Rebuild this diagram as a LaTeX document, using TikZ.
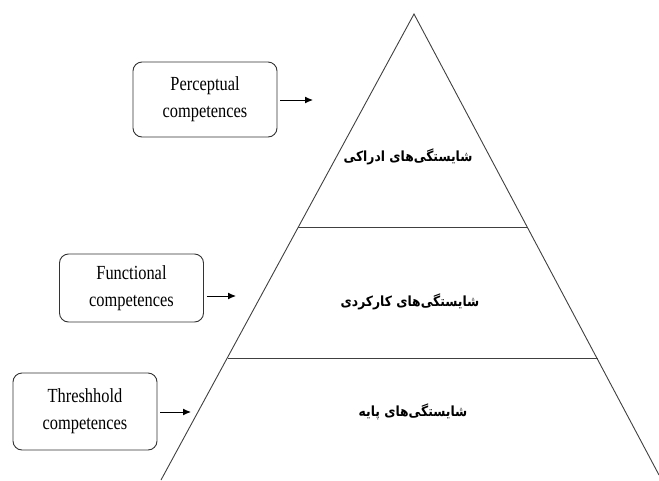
\documentclass[tikz,border=0pt]{standalone}
\usepackage{fontspec}
\setmainfont{Liberation Serif}[FakeStretch=0.82]
\newfontfamily\farsifont[Script=Arabic,FakeStretch=0.88]{DejaVu Sans}
\TeXXeTstate=1
\usetikzlibrary{arrows.meta}

\begin{document}
\begin{tikzpicture}[x=1pt, y=-1pt,
  comp/.style={draw=black!80, line width=0.9pt, rounded corners=9pt, minimum width=144pt, align=center, font=\fontsize{20}{27}\selectfont},
  layer/.style={font=\farsifont\bfseries\fontsize{14}{17}\selectfont},
  edge/.style={draw=black!75, line width=0.9pt},
  pointer/.style={-{Latex[length=8pt,width=7pt]}, line width=1pt, shorten <=3pt}]
\useasboundingbox (0,0) rectangle (659,480);
\coordinate (apex) at (414,14);
\coordinate (bl) at (161,480);
\coordinate (br) at (659,475);
\coordinate (l1) at (298,227);
\coordinate (r1) at (527,227);
\coordinate (l2) at (228,358);
\coordinate (r2) at (598,358);
\draw [edge] (bl) -- (apex) -- (br);
\draw [edge] (l1) -- (r1);
\draw [edge] (l2) -- (r2);
\node [layer] (perc) at (408,157) {\beginR شایستگی‌های ادراکی\endR};
\node [layer] (func) at (410,302) {\beginR شایستگی‌های کارکردی\endR};
\node [layer] (base) at (413,412) {\beginR شایستگی‌های پایه\endR};
\node [comp, minimum height=75pt] (percbox) at (205,99.5) {Perceptual\\competences};
\node [comp, minimum height=68pt] (funcbox) at (131.5,288) {Functional\\competences};
\node [comp, minimum height=77pt] (basebox) at (85,411.5) {Threshhold\\competences};
\coordinate (percend) at (313,100);
\coordinate (funcend) at (236,296);
\coordinate (baseend) at (191,412);
\draw [pointer] (percbox.east |- percend) -- (percend);
\draw [pointer] (funcbox.east |- funcend) -- (funcend);
\draw [pointer] (basebox.east |- baseend) -- (baseend);
\end{tikzpicture}
\end{document}
